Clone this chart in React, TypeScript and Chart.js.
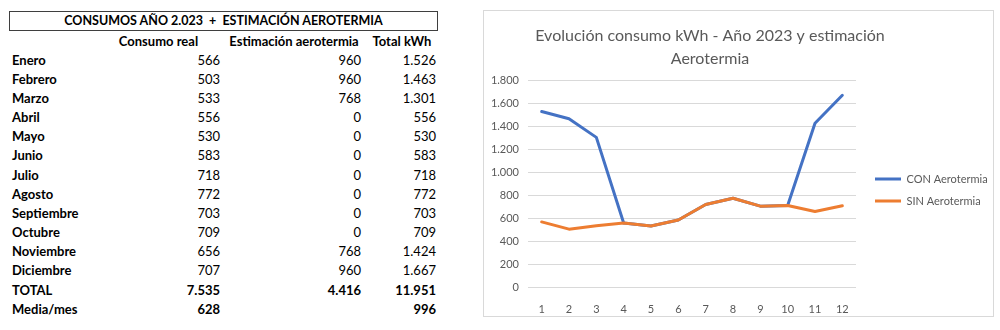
import React, { useEffect, useRef } from 'react';
import { Chart, registerables } from 'chart.js';

Chart.register(...registerables);

// ---------- data ----------
const months = ['Enero', 'Febrero', 'Marzo', 'Abril', 'Mayo', 'Junio', 'Julio', 'Agosto', 'Septiembre', 'Octubre', 'Noviembre', 'Diciembre'];
const consumoReal = [566, 503, 533, 556, 530, 583, 718, 772, 703, 709, 656, 707];
const estimacionAerotermia = [960, 960, 768, 0, 0, 0, 0, 0, 0, 0, 768, 960];
const totalKwh = [1526, 1463, 1301, 556, 530, 583, 718, 772, 703, 709, 1424, 1667];
const totalsRow = [7535, 4416, 11951];
const mediaMesRow: (number | null)[] = [628, null, 996];
const monthNumbers = ['1', '2', '3', '4', '5', '6', '7', '8', '9', '10', '11', '12'];
const columnHeaders = ['Consumo real', 'Estimación aerotermia', 'Total kWh'];
const tableTitle = 'CONSUMOS AÑO 2.023  +  ESTIMACIÓN AEROTERMIA';
const chartTitle = ['Evolución consumo kWh - Año 2023 y estimación', 'Aerotermia'];
const seriesNames = ['CON Aerotermia', 'SIN Aerotermia'];
const yMax = 1800;
const yStep = 200;

// ---------- styling / layout ----------
const FONT = 'Lato, Calibri, "Open Sans", sans-serif';
const GRAY = '#595959';
const BLUE = '#4472C4';
const ORANGE = '#ED7D31';

const CANVAS_W = 508;
const CANVAS_H = 305;
const TITLE_CX = 226;
const LEG_X = 391;
const LEG_Y = 168;
const LEG_FONT = 11;
const LEG_PAD = 11;

const fmt = (n: number | null) =>
  n === null ? '' : String(Math.round(n)).replace(/\B(?=(\d{3})+(?!\d))/g, '.');

const layoutNudge = {
  id: 'layoutNudge',
  afterLayout(chart: any) {
    const t = chart.titleBlock;
    if (t) {
      const w = t.right - t.left;
      t.left = TITLE_CX - w / 2;
      t.right = t.left + w;
    }
    const lg = chart.legend;
    if (lg) {
      lg.left = LEG_X - LEG_PAD;
      lg.right = chart.width;
      const h = lg.bottom - lg.top;
      lg.top = LEG_Y - LEG_PAD - LEG_FONT / 2;
      lg.bottom = lg.top + Math.max(h, 80);
      lg.width = lg.right - lg.left;
      lg.height = lg.bottom - lg.top;
    }
  },
};

function LineChart() {
  const ref = useRef<HTMLCanvasElement | null>(null);
  useEffect(() => {
    if (!ref.current) return;
    const chart = new Chart(ref.current, {
      type: 'line',
      data: {
        labels: monthNumbers,
        datasets: [
          {
            label: seriesNames[0],
            data: totalKwh,
            borderColor: BLUE,
            backgroundColor: BLUE,
            borderWidth: 3,
            pointRadius: 0,
            tension: 0,
            fill: false,
            order: 1,
            borderJoinStyle: 'round',
            borderCapStyle: 'round',
          },
          {
            label: seriesNames[1],
            data: consumoReal,
            borderColor: ORANGE,
            backgroundColor: ORANGE,
            borderWidth: 3,
            pointRadius: 0,
            tension: 0,
            fill: false,
            order: 0,
            borderJoinStyle: 'round',
            borderCapStyle: 'round',
          },
        ],
      },
      options: {
        animation: false,
        responsive: false,
        maintainAspectRatio: false,
        layout: { padding: { left: 0, right: 36, top: 0, bottom: 0 } },
        plugins: {
          title: {
            display: true,
            text: chartTitle,
            color: GRAY,
            font: { family: FONT, size: 16, weight: 'normal', lineHeight: 23 / 16 },
            padding: { top: 13, bottom: 10 },
          },
          legend: {
            position: 'right',
            align: 'start',
            maxWidth: 100,
            labels: {
              usePointStyle: true,
              pointStyle: 'line',
              pointStyleWidth: 26,
              padding: LEG_PAD,
              color: GRAY,
              font: { family: FONT, size: LEG_FONT },
              sort: (a: any, b: any) => a.datasetIndex - b.datasetIndex,
            },
          },
          tooltip: { enabled: false },
        },
        scales: {
          x: {
            offset: true,
            grid: { display: false },
            border: { display: false },
            ticks: { color: GRAY, font: { family: FONT, size: 11 }, padding: 8, maxRotation: 0 },
            afterFit: (s: any) => {
              s.height = 29;
            },
          },
          y: {
            min: 0,
            max: yMax,
            ticks: {
              stepSize: yStep,
              padding: 9,
              color: GRAY,
              font: { family: FONT, size: 11 },
              callback: (v: any) => fmt(Number(v)),
            },
            grid: { color: '#d9d9d9', drawTicks: false, lineWidth: 1 },
            border: { display: false },
            afterFit: (s: any) => {
              s.width = 44;
            },
          },
        },
      },
      plugins: [layoutNudge],
    } as any);
    return () => chart.destroy();
  }, []);
  return (
    <canvas
      ref={ref}
      width={CANVAS_W}
      height={CANVAS_H}
      style={{ position: 'absolute', left: 484, top: 11, width: CANVAS_W, height: CANVAS_H, display: 'block' }}
    />
  );
}

const ROW0 = 60;
const ROW_STEP = 19.17;
const NUM_RIGHTS = [220, 361, 436];
const HEAD_CENTERS = [158.5, 294, 402];

function DataTable() {
  const rows: { label: string; vals: (number | null)[]; bold: boolean }[] = months.map((m, i) => ({
    label: m,
    vals: [consumoReal[i], estimacionAerotermia[i], totalKwh[i]],
    bold: false,
  }));
  rows.push({ label: 'TOTAL', vals: totalsRow, bold: true });
  rows.push({ label: 'Media/mes', vals: mediaMesRow, bold: true });

  const cell = (top: number): React.CSSProperties => ({
    position: 'absolute',
    top: top - 9.5,
    height: 19,
    lineHeight: '19px',
    whiteSpace: 'pre',
    fontSize: 13,
  });

  return (
    <>
      <div
        style={{
          position: 'absolute',
          left: 9,
          top: 11,
          width: 429,
          height: 20,
          boxSizing: 'border-box',
          border: '1px solid #3f3f3f',
          textAlign: 'center',
          lineHeight: '18px',
          fontWeight: 700,
          fontSize: 12.5,
          whiteSpace: 'pre',
        }}
      >
        {tableTitle}
      </div>
      {columnHeaders.map((h, j) => (
        <div
          key={'h' + j}
          style={{ ...cell(41), left: HEAD_CENTERS[j] - 100, width: 200, textAlign: 'center', fontWeight: 700 }}
        >
          {h}
        </div>
      ))}
      {rows.map((r, i) => {
        const y = ROW0 + i * ROW_STEP;
        return (
          <React.Fragment key={'r' + i}>
            <div style={{ ...cell(y), left: 12, fontWeight: 700 }}>{r.label}</div>
            {r.vals.map((v, j) => (
              <div
                key={'c' + j}
                style={{ ...cell(y), left: NUM_RIGHTS[j] - 120, width: 120, textAlign: 'right', fontWeight: r.bold ? 700 : 400 }}
              >
                {fmt(v)}
              </div>
            ))}
          </React.Fragment>
        );
      })}
    </>
  );
}

export default function App() {
  return (
    <div
      style={{
        position: 'absolute',
        left: 0,
        top: 0,
        width: 1000,
        height: 330,
        background: '#ffffff',
        fontFamily: FONT,
        color: '#000',
        overflow: 'hidden',
      }}
    >
      <DataTable />
      <div
        style={{
          position: 'absolute',
          left: 483,
          top: 10,
          width: 511,
          height: 307,
          boxSizing: 'border-box',
          border: '1px solid #d9d9d9',
        }}
      />
      <LineChart />
    </div>
  );
}
